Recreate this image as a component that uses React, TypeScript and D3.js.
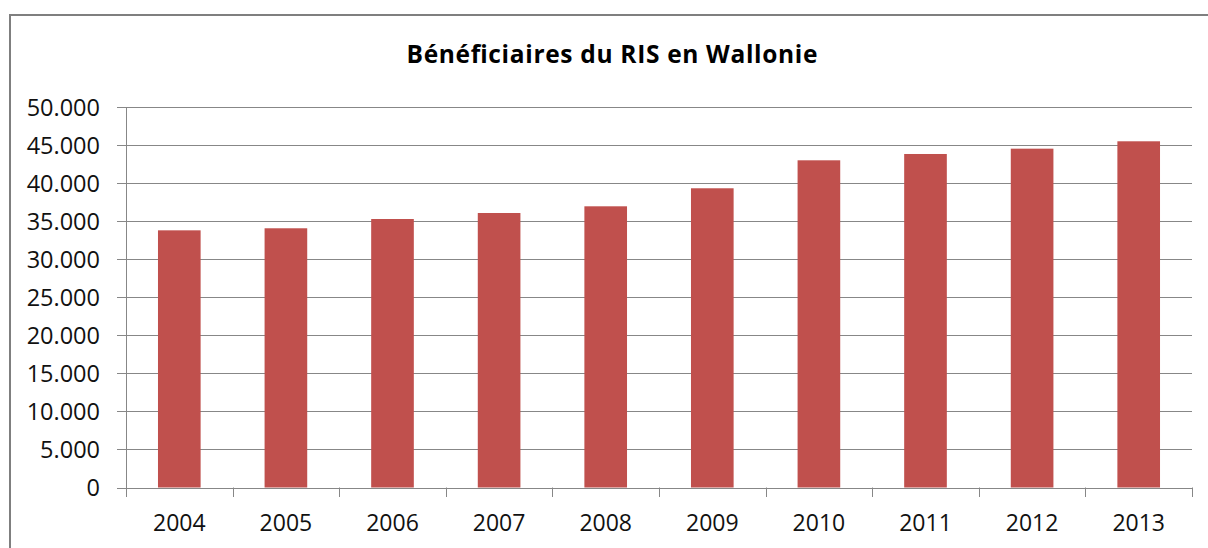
import React, {useEffect, useRef} from 'react';
import * as d3 from 'd3';

const years = ['2004', '2005', '2006', '2007', '2008', '2009', '2010', '2011', '2012', '2013'];
const beneficiaires = [33820, 34090, 35310, 36100, 36980, 39350, 43030, 43860, 44560, 45530];
const yTicks = [0, 5000, 10000, 15000, 20000, 25000, 30000, 35000, 40000, 45000, 50000];
const title = 'Bénéficiaires du RIS en Wallonie';

const W = 1208;
const H = 548;

const App = () => {
  const svgRef = useRef<SVGSVGElement>(null);

  useEffect(() => {
    const svg = d3.select(svgRef.current);
    svg.selectAll('*').remove();

    const left = 126;
    const right = 1192;
    const top = 107.3;
    const bottom = 487.5;
    const font = '"Open Sans", "Noto Sans", sans-serif';
    const axisColor = '#878787';

    const fmt = d3
      .formatLocale({decimal: ',', thousands: '.', grouping: [3], currency: ['', '€']})
      .format(',');

    const x = d3.scaleBand().domain(years).range([left, right]).padding(0);
    const y = d3.scaleLinear().domain([0, 50000]).range([bottom, top]);

    // border of the chart area
    svg
      .append('rect')
      .attr('x', 10)
      .attr('y', 15)
      .attr('width', 1240)
      .attr('height', 600)
      .attr('fill', 'white')
      .attr('stroke', '#7f7f7f')
      .attr('stroke-width', 2);

    svg
      .append('text')
      .attr('x', 612)
      .attr('y', 63)
      .attr('text-anchor', 'middle')
      .attr('font-family', font)
      .attr('font-weight', 'bold')
      .attr('font-size', 24.5)
      .attr('textLength', 411)
      .attr('lengthAdjust', 'spacing')
      .attr('fill', '#000')
      .text(title);

    // gridlines + y labels
    const g = svg.append('g');
    g.selectAll('.grid')
      .data(yTicks)
      .enter()
      .append('line')
      .attr('x1', left - 9)
      .attr('x2', right)
      .attr('y1', d => Math.round(y(d)) + 0.5)
      .attr('y2', d => Math.round(y(d)) + 0.5)
      .attr('stroke', axisColor)
      .attr('stroke-width', 1);

    g.selectAll('.ylab')
      .data(yTicks)
      .enter()
      .append('text')
      .attr('x', 100)
      .attr('y', d => y(d))
      .attr('dy', '0.36em')
      .attr('text-anchor', 'end')
      .attr('font-family', font)
      .attr('font-size', 23.5)
      .attr('fill', '#111')
      .text(d => fmt(d));

    // bars (gap width 150%)
    const bw = x.bandwidth() / 2.5;
    g.selectAll('.bar')
      .data(beneficiaires)
      .enter()
      .append('rect')
      .attr('x', (d, i) => (x(years[i]) as number) + (x.bandwidth() - bw) / 2)
      .attr('y', d => y(d))
      .attr('width', bw)
      .attr('height', d => bottom - y(d))
      .attr('fill', '#C0504D');

    // y axis line
    g.append('line')
      .attr('x1', left + 0.5)
      .attr('x2', left + 0.5)
      .attr('y1', top)
      .attr('y2', bottom + 9.5)
      .attr('stroke', axisColor);

    // x axis category ticks
    const bounds = years.map(yr => x(yr) as number).concat([right]);
    g.selectAll('.xtick')
      .data(bounds)
      .enter()
      .append('line')
      .attr('x1', d => Math.round(d) + 0.5)
      .attr('x2', d => Math.round(d) + 0.5)
      .attr('y1', bottom)
      .attr('y2', bottom + 9.5)
      .attr('stroke', axisColor);

    g.selectAll('.xlab')
      .data(years)
      .enter()
      .append('text')
      .attr('x', d => (x(d) as number) + x.bandwidth() / 2)
      .attr('y', 531)
      .attr('text-anchor', 'middle')
      .attr('font-family', font)
      .attr('font-size', 23)
      .attr('fill', '#111')
      .text(d => d);
  }, []);

  return (
    <svg
      ref={svgRef}
      width={W}
      height={H}
      style={{position: 'absolute', left: 0, top: 0, background: 'white'}}
    ></svg>
  );
};

export default App;
